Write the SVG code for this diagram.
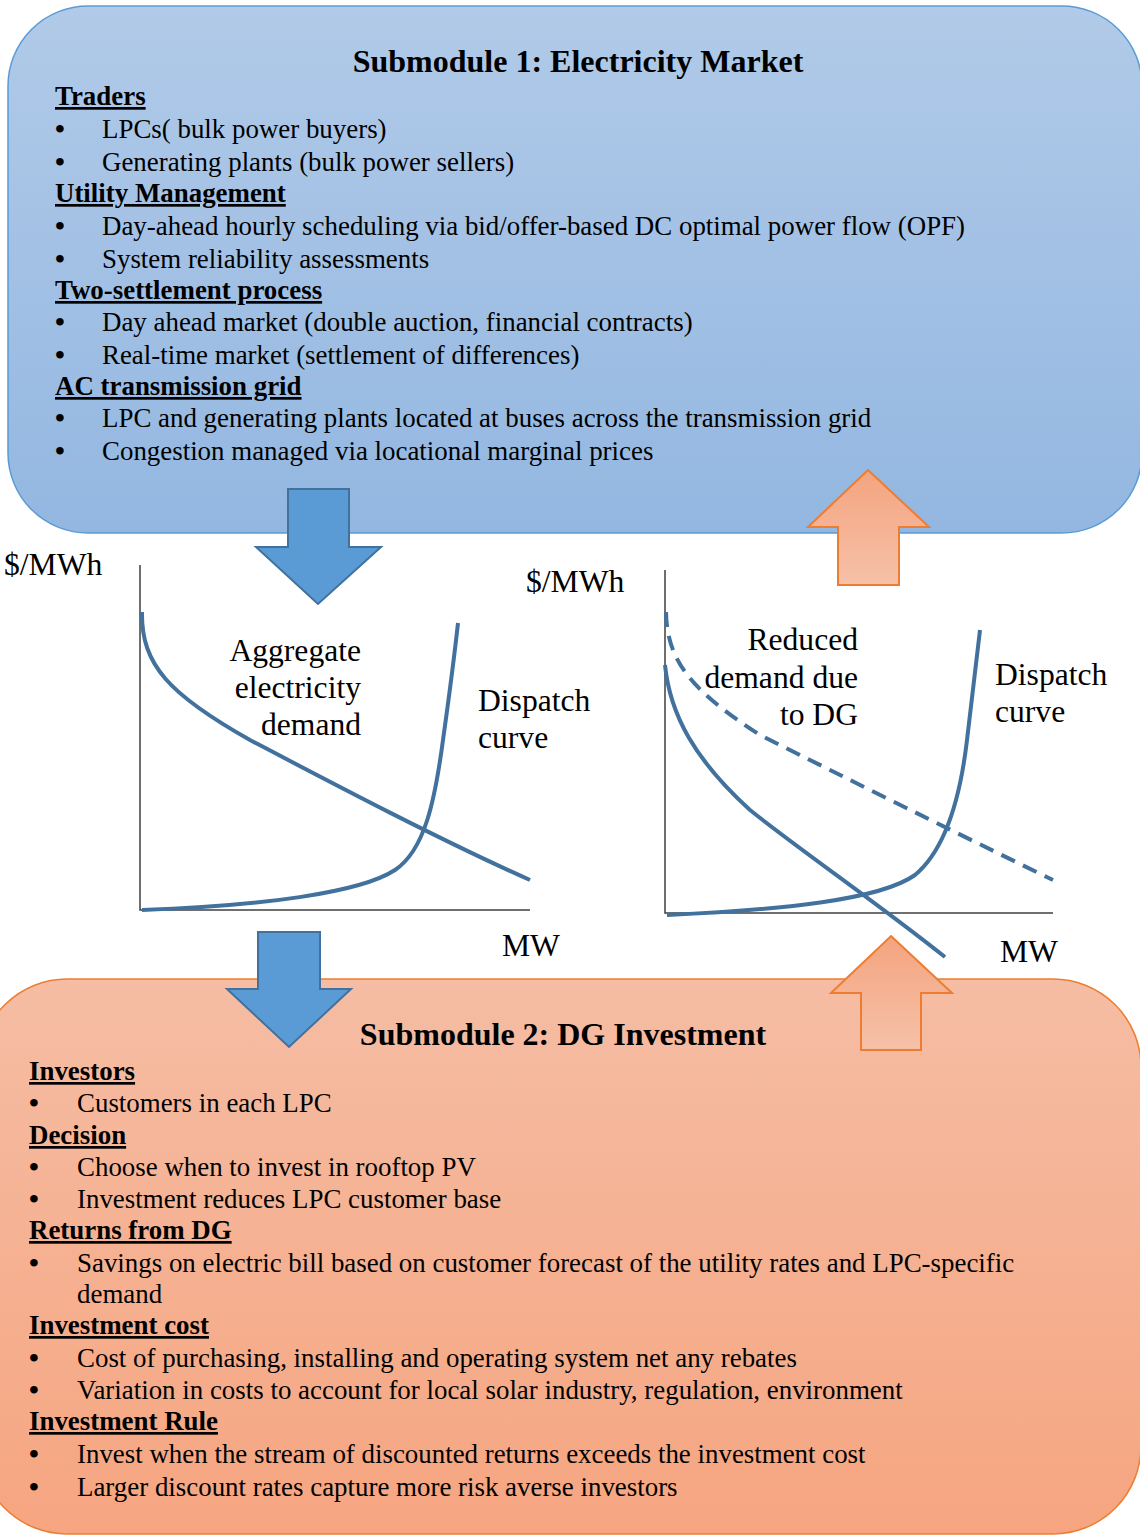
<svg xmlns="http://www.w3.org/2000/svg" width="1140" height="1536" viewBox="0 0 1140 1536">
<defs>
<linearGradient id="gBlue" x1="0" y1="0" x2="0" y2="1"><stop offset="0" stop-color="#B1CAE8"/><stop offset="1" stop-color="#93B7E1"/></linearGradient>
<linearGradient id="gOrange" x1="0" y1="0" x2="0" y2="1"><stop offset="0" stop-color="#F5BDA4"/><stop offset="1" stop-color="#F6A580"/></linearGradient>
<linearGradient id="gArrowO" x1="0" y1="0" x2="0" y2="1"><stop offset="0" stop-color="#F4A47F"/><stop offset="1" stop-color="#F6C1A8"/></linearGradient>
</defs>
<style>
.t{font-family:"Liberation Serif","Times New Roman",serif;font-size:26.9px;fill:#000}
.b{font-family:"Liberation Serif","Times New Roman",serif;font-size:28px;font-weight:bold;fill:#000}
.h{font-family:"Liberation Serif","Times New Roman",serif;font-size:26.9px;font-weight:bold;text-decoration:underline;fill:#000}
.title{font-family:"Liberation Serif","Times New Roman",serif;font-size:32px;font-weight:bold;fill:#000;text-anchor:middle}
.c{font-family:"Liberation Serif","Times New Roman",serif;font-size:31.6px;fill:#000}
.r{text-anchor:end}
.ax{stroke:#404040;stroke-width:1.5;fill:none}
.cv{stroke:#41719C;stroke-width:4;fill:none}
.dash{stroke-dasharray:15 9}
.ab{fill:#5B9BD5;stroke:#41719C;stroke-width:2}
.ao{fill:url(#gArrowO);stroke:#ED7D31;stroke-width:2}
</style>

<g id="submodule1">
<rect x="8" y="6" width="1134" height="527" rx="80" ry="80" fill="url(#gBlue)" stroke="#5B9BD5" stroke-width="1.5"/>
<text class="title" x="578" y="72">Submodule 1: Electricity Market</text>
<text class="h" x="55" y="105">Traders</text>
<text class="b" x="55" y="138">•</text><text class="t" x="102" y="138">LPCs( bulk power buyers)</text>
<text class="b" x="55" y="171">•</text><text class="t" x="102" y="171">Generating plants (bulk power sellers)</text>
<text class="h" x="55" y="202">Utility Management</text>
<text class="b" x="55" y="235">•</text><text class="t" x="102" y="235">Day-ahead hourly scheduling via bid/offer-based DC optimal power flow (OPF)</text>
<text class="b" x="55" y="268">•</text><text class="t" x="102" y="268">System reliability assessments</text>
<text class="h" x="55" y="299">Two-settlement process</text>
<text class="b" x="55" y="331">•</text><text class="t" x="102" y="331">Day ahead market (double auction, financial contracts)</text>
<text class="b" x="55" y="364">•</text><text class="t" x="102" y="364">Real-time market (settlement of differences)</text>
<text class="h" x="55" y="395">AC transmission grid</text>
<text class="b" x="55" y="427">•</text><text class="t" x="102" y="427">LPC and generating plants located at buses across the transmission grid</text>
<text class="b" x="55" y="460">•</text><text class="t" x="102" y="460">Congestion managed via locational marginal prices</text>
</g>

<g id="submodule2">
<rect x="-21" y="979" width="1162" height="555" rx="88" ry="88" fill="url(#gOrange)" stroke="#ED7D31" stroke-width="1.5"/>
<text class="title" x="563" y="1045">Submodule 2: DG Investment</text>
<text class="h" x="29" y="1080">Investors</text>
<text class="b" x="29" y="1112">•</text><text class="t" x="77" y="1112">Customers in each LPC</text>
<text class="h" x="29" y="1144">Decision</text>
<text class="b" x="29" y="1176">•</text><text class="t" x="77" y="1176">Choose when to invest in rooftop PV</text>
<text class="b" x="29" y="1208">•</text><text class="t" x="77" y="1208">Investment reduces LPC customer base</text>
<text class="h" x="29" y="1239">Returns from DG</text>
<text class="b" x="29" y="1272">•</text><text class="t" x="77" y="1272">Savings on electric bill based on customer forecast of the utility rates and LPC-specific</text>
<text class="t" x="77" y="1303">demand</text>
<text class="h" x="29" y="1334">Investment cost</text>
<text class="b" x="29" y="1367">•</text><text class="t" x="77" y="1367">Cost of purchasing, installing and operating system net any rebates</text>
<text class="b" x="29" y="1399">•</text><text class="t" x="77" y="1399">Variation in costs to account for local solar industry, regulation, environment</text>
<text class="h" x="29" y="1430">Investment Rule</text>
<text class="b" x="29" y="1463">•</text><text class="t" x="77" y="1463">Invest when the stream of discounted returns exceeds the investment cost</text>
<text class="b" x="29" y="1496">•</text><text class="t" x="77" y="1496">Larger discount rates capture more risk averse investors</text>
</g>

<g id="chart-left">
<path class="ax" d="M140,565 V910 H530"/>
<path class="cv" d="M142,612 C141,665 170,695 250,740 C330,782 440,840 530,880"/>
<path class="cv" d="M142,910 C260,906 360,893 395,870 C425,850 435,800 443,740 C450,690 455,650 458,623"/>
<text class="c" x="4" y="575">$/MWh</text>
<text class="c r" x="361" y="661">Aggregate</text>
<text class="c r" x="361" y="698">electricity</text>
<text class="c r" x="361" y="735">demand</text>
<text class="c" x="478" y="711">Dispatch</text>
<text class="c" x="478" y="748">curve</text>
<text class="c" x="502" y="956">MW</text>
</g>

<g id="chart-right">
<path class="ax" d="M665,570 V913 H1053"/>
<path class="cv dash" d="M666,612 C667,660 690,690 760,735 C850,780 950,830 1053,880"/>
<path class="cv" d="M665,665 C670,715 695,760 750,810 C800,850 880,905 945,957"/>
<path class="cv" d="M667,915 C780,910 880,900 915,875 C945,850 960,800 967,740 L980,630"/>
<text class="c" x="526" y="592">$/MWh</text>
<text class="c r" x="858" y="650">Reduced</text>
<text class="c r" x="858" y="688">demand due</text>
<text class="c r" x="858" y="725">to DG</text>
<text class="c" x="995" y="685">Dispatch</text>
<text class="c" x="995" y="722">curve</text>
<text class="c" x="1000" y="962">MW</text>
</g>

<g id="connectors">
<path class="ab" d="M288,489 H349 V547 H381 L318,604 L256,547 H288 Z"/>
<path class="ao" d="M868,470 L929,527 H899 V585 H838 V527 H808 Z"/>
<path class="ab" d="M258,932 H320 V989 H351 L289,1047 L227,989 H258 Z"/>
<path class="ao" d="M891,936 L952,993 H921 V1050 H861 V993 H831 Z"/>
</g>
</svg>
